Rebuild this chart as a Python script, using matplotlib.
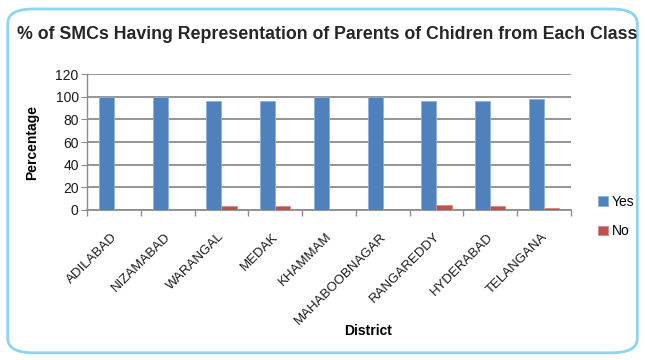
import numpy as np
import matplotlib.pyplot as plt
import matplotlib.transforms as mtransforms
from matplotlib.patches import FancyBboxPatch

#%%
districts = ['ADILABAD', 'NIZAMABAD', 'WARANGAL', 'MEDAK', 'KHAMMAM',
             'MAHABOOBNAGAR', 'RANGAREDDY', 'HYDERABAD', 'TELANGANA']
yes_pct = [100, 100, 96.4, 96.5, 100, 100, 96.0, 96.5, 98.2]
no_pct  = [0, 0, 3.6, 3.0, 0, 0, 4.0, 3.0, 1.3]

plt.rcParams['font.family'] = ['Liberation Sans', 'DejaVu Sans']

#%%
fig = plt.figure(figsize=(6.45, 3.6), dpi=100)
ax = fig.add_axes([0.135, 0.417, 0.75, 0.377])

x = np.arange(len(districts))
w = 0.28
ax.bar(x - w / 2, yes_pct, w, color='#4F81BD', edgecolor='#8fb0dc', linewidth=0.6,
       label='Yes', zorder=3)
ax.bar(x + w / 2, no_pct, w, color='#C0504D', edgecolor='#d98886', linewidth=0.6,
       label='No', zorder=3)

ax.set_xlim(-0.5, len(districts) - 0.5)
ax.set_ylim(0, 120)
ax.set_yticks(np.arange(0, 121, 20))
ax.yaxis.grid(True, color='#8c8c8c', linewidth=1.3, zorder=0)
ax.set_xticks(x)
ax.set_xticklabels(districts, rotation=45, ha='right', rotation_mode='anchor',
                   fontsize=9.5, color='#1a1a1a')
ax.tick_params(axis='x', length=0, pad=15)
shift = mtransforms.ScaledTranslation(-3 / 100, 0, fig.dpi_scale_trans)
for lab in ax.get_xticklabels():
    lab.set_transform(lab.get_transform() + shift)
ax.set_xticks(np.arange(-0.5, len(districts)), minor=True)
ax.tick_params(axis='x', which='minor', length=4, color='#8c8c8c', width=1)
ax.tick_params(axis='y', length=4, color='#8c8c8c', labelsize=10, pad=2,
               labelcolor='#1a1a1a')

for s in ['top', 'right']:
    ax.spines[s].set_visible(False)
ax.spines['left'].set_color('#8c8c8c')
ax.spines['bottom'].set_color('#8c8c8c')
ax.spines['left'].set_linewidth(1)
ax.spines['bottom'].set_linewidth(1.3)

ax.set_ylabel('Percentage', fontsize=10, fontweight='bold', labelpad=12)
ax.set_xlabel('District', fontsize=10, fontweight='bold', labelpad=2)
ax.xaxis.set_label_coords(0.58, -0.84)

fig.text(0.507, 0.903, '% of SMCs Having Representation of Parents of Chidren from Each Class',
         ha='center', va='center', fontsize=12.8, fontweight='bold', color='#262626')

leg = ax.legend(loc='center left', bbox_to_anchor=(1.03, -0.05), frameon=False,
                fontsize=10, handlelength=0.7, handleheight=0.7, handletextpad=0.3,
                labelspacing=1.1)

border = FancyBboxPatch((0.012, 0.02), 0.976, 0.955, boxstyle='round,pad=0,rounding_size=0.04',
                        transform=fig.transFigure, facecolor='none', edgecolor='#8dd3f3',
                        linewidth=2, clip_on=False)
fig.patches.append(border)

fig.savefig('out.png', dpi=100)
